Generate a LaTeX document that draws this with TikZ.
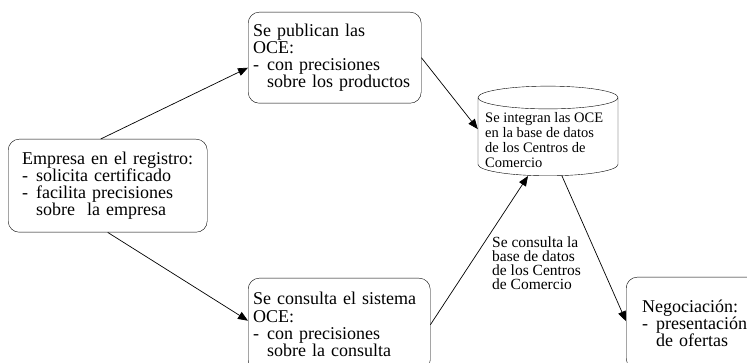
\documentclass[tikz,border=0pt]{standalone}
\usepackage{fontspec}
\setmainfont{Liberation Serif}
\usetikzlibrary{shapes.geometric, arrows.meta}

\newcommand{\guion}[1]{\makebox[14pt][l]{-}#1}
\newcommand{\sangria}{\hspace*{14pt}}

\tikzset{
	caja/.style={draw, rounded corners=11pt, anchor=north west, align=left,
		inner ysep=2pt, font=\fontsize{18}{17.3}\selectfont},
	flecha/.style={-{Triangle[length=10pt,width=8pt]}, line width=0.7pt},
}

\begin{document}
\begin{tikzpicture}[x=1pt, y=1pt]
	\useasboundingbox (0,0) rectangle (747,-363);
	\clip (0,0) rectangle (747,-363);

	\node (empresa) at (8,-139) [caja, inner xsep=14pt, text width=171pt, minimum height=93pt]
		{Empresa en el registro:\\\guion{solicita certificado}\\\guion{facilita precisiones}\\\sangria sobre\ \ la empresa};
	\node (publican) at (248,-12) [caja, inner xsep=5pt, text width=163pt, minimum height=91pt]
		{Se publican las\\OCE:\\\guion{con precisiones}\\\sangria sobre los productos};
	\node (consulta) at (248,-278) [caja, inner xsep=5pt, text width=172pt, minimum height=93pt]
		{Se consulta el sistema\\OCE:\\\guion{con precisiones}\\\sangria sobre la consulta};
	\node (negocia) at (626,-277) [caja, inner xsep=16pt, text width=120pt, minimum height=92pt]
		{Negociaci\'on:\\\guion{presentaci\'on}\\\sangria de ofertas};
	\node (bd) at (548,-176) [cylinder, shape border rotate=90, draw, aspect=0.17, anchor=south,
		minimum width=140pt, inner xsep=2pt, inner ysep=0pt]
		{\rule{130pt}{0pt}\rule{0pt}{58pt}};
	\node (bdtexto) at (485,-112) [anchor=north west, align=left, inner sep=0pt,
		font=\fontsize{14.5}{15.2}\selectfont]
		{Se integran las OCE\\en la base de datos\\de los Centros de\\Comercio};
	\node (etiqueta) at (492,-237) [anchor=north west, align=left, inner sep=0pt,
		font=\fontsize{15.5}{14}\selectfont]
		{Se consulta la\\base de datos\\de los Centros\\de Comercio};

	% conectores
	\draw[flecha] ([xshift=-7pt]empresa.north) -- ([yshift=-10pt]publican.west);
	\draw[flecha] (empresa.south) -- ([yshift=4pt]consulta.west);
	\draw[flecha] (publican.east) -- ([yshift=9pt]bd.west);
	\draw[flecha] (consulta.east) -- ([xshift=-20pt]bd.south);
	\draw[flecha] ([xshift=14pt]bd.south) -- ([yshift=2pt]negocia.west);
\end{tikzpicture}
\end{document}
